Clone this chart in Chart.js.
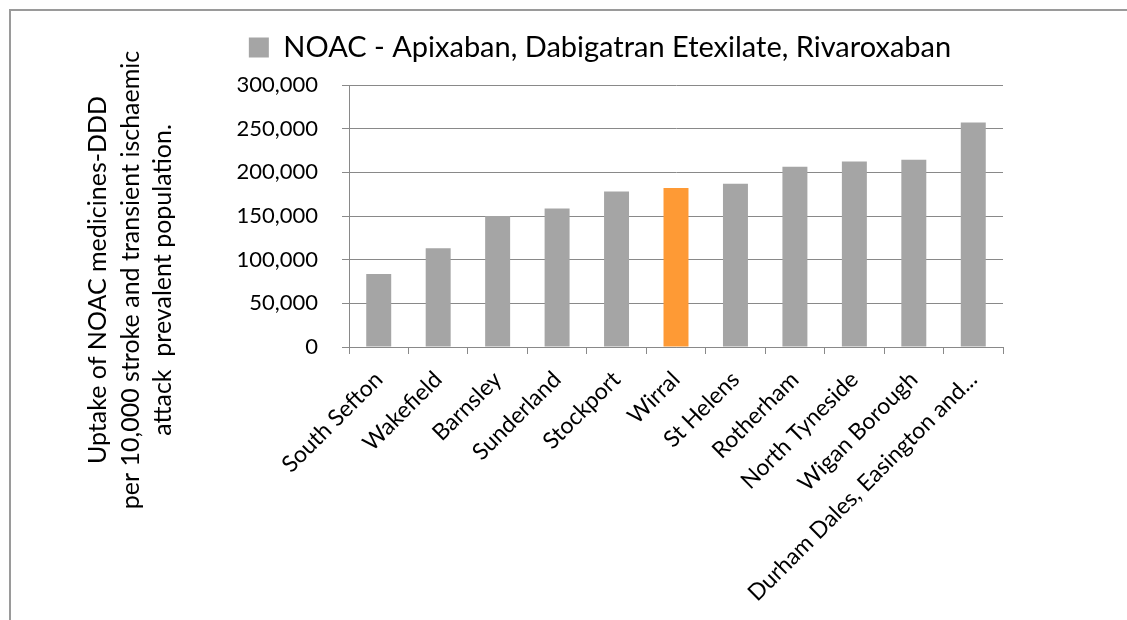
<!DOCTYPE html>
<html>
<head>
<meta charset="utf-8">
<script src="https://cdn.jsdelivr.net/npm/chart.js@4"></script>
<style>
  html, body { margin: 0; padding: 0; background: #fff; }
  #wrap { position: relative; width: 1127px; height: 620px; overflow: hidden; }
  #frame { position: absolute; left: 9px; top: 9px; width: 1200px; height: 700px;
           border-top: 2px solid #9a9a9a; border-left: 2px solid #9a9a9a; }
  #chart { position: absolute; left: 0; top: 0; }
</style>
</head>
<body>
<div id="wrap">
  <div id="frame"></div>
  <canvas id="chart" width="1127" height="620"></canvas>
</div>
<script>
const areas = [
  "South Sefton", "Wakefield", "Barnsley", "Sunderland", "Stockport", "Wirral",
  "St Helens", "Rotherham", "North Tyneside", "Wigan Borough", "Durham Dales, Easington and..."
];
const uptake = [83500, 113000, 150000, 158500, 178000, 182000, 187000, 206500, 212500, 214500, 257000];
const seriesName = "NOAC - Apixaban, Dabigatran Etexilate, Rivaroxaban";
const highlightArea = "Wirral";
const yTicks = [0, 50000, 100000, 150000, 200000, 250000, 300000];
const yTitleLines = [
  "Uptake of NOAC medicines-DDD",
  "per 10,000 stroke and transient ischaemic",
  "attack  prevalent population."
];

const GREY = '#a5a5a5';
const ORANGE = '#fe9a35';
const LINE = '#898989';

Chart.defaults.font.family = 'Lato';
Chart.defaults.color = '#000';

// extra room under the legend before the plot starts
const legendGap = {
  id: 'legendGap',
  beforeInit(chart) {
    const fit = chart.legend.fit;
    chart.legend.fit = function () {
      fit.call(this);
      this.height += 13;
    };
  }
};

// rotated three-line title left of the value axis
const axisTitle = {
  id: 'axisTitle',
  afterDraw(chart) {
    const { ctx, chartArea } = chart;
    ctx.save();
    ctx.font = '25px Lato';
    ctx.fillStyle = '#000';
    ctx.textAlign = 'center';
    ctx.textBaseline = 'alphabetic';
    const cy = chartArea.top + 195;
    yTitleLines.forEach((line, i) => {
      ctx.save();
      ctx.translate(chartArea.left - 243 + i * 32.5, cy);
      ctx.rotate(-Math.PI / 2);
      ctx.fillText(line, 0, 0);
      ctx.restore();
    });
    ctx.restore();
  }
};

new Chart(document.getElementById('chart'), {
  type: 'bar',
  data: {
    labels: areas,
    datasets: [{
      label: seriesName,
      data: uptake,
      backgroundColor: ctx => areas[ctx.dataIndex] === highlightArea ? ORANGE : GREY,
      borderWidth: 0,
      barPercentage: 0.42,
      categoryPercentage: 1
    }]
  },
  options: {
    responsive: false,
    animation: false,
    devicePixelRatio: 1,
    layout: { padding: { left: 197, right: 124, top: 20, bottom: 0 } },
    plugins: {
      legend: {
        display: true,
        position: 'top',
        labels: {
          boxWidth: 20,
          boxHeight: 20,
          padding: 13,
          font: { size: 29 },
          color: '#000'
        }
      },
      tooltip: { enabled: false }
    },
    scales: {
      x: {
        grid: {
          display: true,
          drawOnChartArea: false,
          drawTicks: true,
          tickLength: 7,
          color: LINE,
          offset: true
        },
        border: { display: true, color: LINE, width: 1 },
        ticks: {
          autoSkip: false,
          maxRotation: 45,
          minRotation: 45,
          padding: 12,
          font: { size: 23 }
        },
        afterFit(scale) { scale.height = 273; }
      },
      y: {
        min: 0,
        max: 300000,
        afterBuildTicks(scale) { scale.ticks = yTicks.map(v => ({ value: v })); },
        grid: {
          color: LINE,
          tickLength: 7,
          drawTicks: true
        },
        border: { display: true, color: LINE, width: 1 },
        ticks: {
          padding: 24,
          font: { size: 22 },
          callback: v => v.toLocaleString('en-US')
        },
        afterFit(scale) { scale.width = 152; }
      }
    }
  },
  plugins: [legendGap, axisTitle]
});
</script>
</body>
</html>
